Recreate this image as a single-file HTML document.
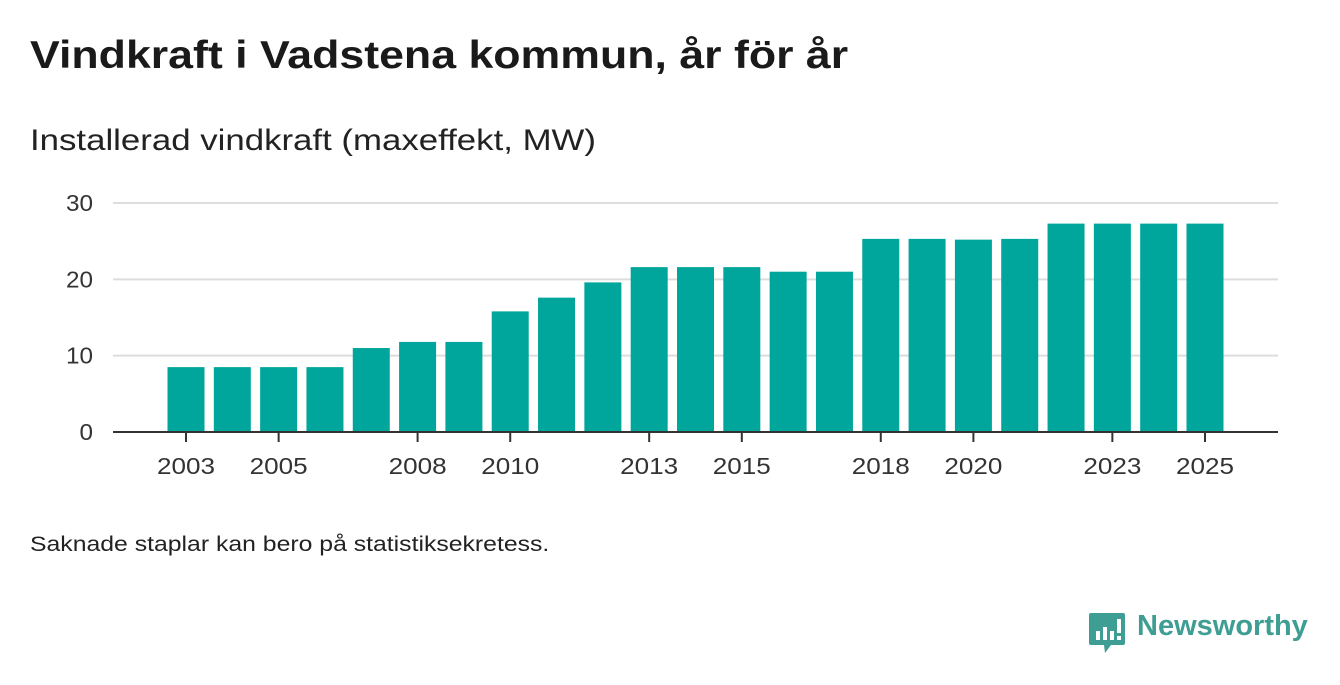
<!DOCTYPE html>
<html><head><meta charset="utf-8">
<style>
body{margin:0;width:1340px;height:685px;background:#fff;font-family:"Liberation Sans",sans-serif;overflow:hidden;position:relative;color:#111}
.t{position:absolute;white-space:nowrap;transform-origin:0 0}
</style></head><body>
<div class="t" style="left:30px;top:34px;font-size:39px;font-weight:bold;color:#1a1a1a;transform:scaleX(1.145)">Vindkraft i Vadstena kommun, år för år</div>
<div class="t" style="left:30px;top:124px;font-size:30px;color:#222;transform:scaleX(1.16)">Installerad vindkraft (maxeffekt, MW)</div>
<svg id="c" width="1340" height="685" style="position:absolute;left:0;top:0"></svg>
<div class="t" style="left:30px;top:533px;font-size:21px;color:#222;transform:scaleX(1.18)">Saknade staplar kan bero på statistiksekretess.</div>
<div style="position:absolute;left:1089px;top:613px;">
<svg width="38" height="42"><path d="M2 0H34Q36 0 36 2V30Q36 32 34 32H22L16 40L15 32H2Q0 32 0 30V2Q0 0 2 0Z" fill="#3f9e93"/><rect x="7" y="18" width="4" height="9" fill="#fff"/><rect x="14" y="14" width="4" height="13" fill="#fff"/><rect x="21" y="18" width="4" height="9" fill="#fff"/><rect x="28" y="6" width="4" height="14" fill="#fff"/><rect x="28" y="23" width="4" height="4" fill="#fff"/></svg>
<span style="position:absolute;left:48px;top:-3px;font-size:29px;font-weight:bold;color:#3f9e93">Newsworthy</span>
</div>
<script>
const years=[2003,2004,2005,2006,2007,2008,2009,2010,2011,2012,2013,2014,2015,2016,2017,2018,2019,2020,2021,2022,2023,2024,2025];
const values=[8.5,8.5,8.5,8.5,11.0,11.8,11.8,15.8,17.6,19.6,21.6,21.6,21.6,21.0,21.0,25.3,25.3,25.2,25.3,27.3,27.3,27.3,27.3];
const yTicks=[0,10,20,30];
const xLabels=[2003,2005,2008,2010,2013,2015,2018,2020,2023,2025];
const svg=document.getElementById('c');const NS='http://www.w3.org/2000/svg';
const y=v=>432-v*(229/30);
const x=yr=>186+(yr-2003)*(1019/22);
function mk(t,a){const e=document.createElementNS(NS,t);for(const k in a)e.setAttribute(k,a[k]);svg.appendChild(e);return e;}
yTicks.forEach(v=>{
 if(v>0){const g=mk('line',{x1:113,x2:1278,y1:y(v),y2:y(v),stroke:'#dddddd','stroke-width':2});
 
 }
 const t=mk('text',{x:93,y:y(v)+8,'text-anchor':'end','font-size':23,fill:'#333','font-family':'Liberation Sans,sans-serif',textLength:(String(v).length*13.5),lengthAdjust:'spacingAndGlyphs'});t.textContent=v;
 
 
});
years.forEach((yr,i)=>{
 const r=mk('rect',{x:x(yr)-18.5,y:y(values[i]),width:37,height:432-y(values[i]),fill:'#00a59b'});
 
 
});
const ax=mk('line',{x1:113,x2:1278,y1:432,y2:432,stroke:'#333','stroke-width':2});


xLabels.forEach(yr=>{
 const tk=mk('line',{x1:x(yr),x2:x(yr),y1:432,y2:442,stroke:'#333','stroke-width':2});
 
 
 const t=mk('text',{x:x(yr),y:474,'text-anchor':'middle','font-size':23,fill:'#333','font-family':'Liberation Sans,sans-serif',textLength:58,lengthAdjust:'spacingAndGlyphs'});t.textContent=yr;
 
 
});
</script>
</body></html>
